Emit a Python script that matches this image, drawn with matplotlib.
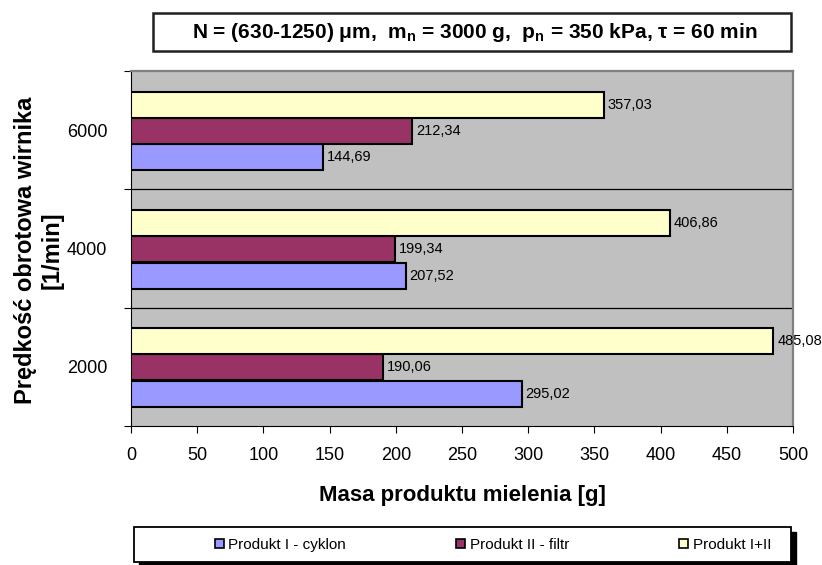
import matplotlib
matplotlib.use("Agg")
import matplotlib.pyplot as plt
from matplotlib.patches import Rectangle, Patch

plt.rcParams['font.family'] = ['Liberation Sans', 'DejaVu Sans']

# dane pomiarowe
predkosci = ['2000', '4000', '6000']
produkt_cyklon = [295.02, 207.52, 144.69]
produkt_filtr = [190.06, 199.34, 212.34]
produkt_suma = [485.08, 406.86, 357.03]
nazwy_serii = ['Produkt I - cyklon', 'Produkt II - filtr', 'Produkt I+II']
kolory = ['#9999FF', '#993366', '#FFFFCC']

W, H = 822, 565
fig = plt.figure(figsize=(W / 100, H / 100), dpi=100)

# obszar wykresu (w pikselach: 131..793 x 71..426)
ax = fig.add_axes([131 / W, 1 - 426 / H, (793 - 131) / W, (426 - 71) / H])
ax.set_facecolor('#C0C0C0')

y = list(range(len(predkosci)))
h = 0.22
serie = [produkt_cyklon, produkt_filtr, produkt_suma]
przesuniecia = [-0.23, -0.005, 0.215]
for vals, kol, dy in zip(serie, kolory, przesuniecia):
    pos = [p + dy for p in y]
    ax.barh(pos, vals, height=h, color=kol, edgecolor='black', linewidth=1.5, zorder=3)
    for p, v in zip(pos, vals):
        ax.text(v + 3, p, f"{v:.2f}".replace('.', ','), va='center', ha='left',
                fontsize=10.5, zorder=4)

ax.set_xlim(0, 500)
ax.set_ylim(-0.5, 2.5)
ax.set_xticks(range(0, 501, 50))
ax.tick_params(axis='x', labelsize=13, length=5, pad=10, direction='out')

# podziałki osi Y na granicach kategorii, opisy w środku
ax.set_yticks([-0.5, 0.5, 1.5, 2.5])
ax.set_yticklabels([])
ax.set_yticks(y, minor=True)
ax.set_yticklabels(predkosci, minor=True)
ax.tick_params(axis='y', which='major', length=5, direction='out')
ax.tick_params(axis='y', which='minor', length=0, labelsize=13, pad=17)

for yy in [0.5, 1.5]:
    ax.axhline(yy, color='black', linewidth=0.9, zorder=2)

ax.spines['left'].set_color('black')
ax.spines['bottom'].set_color('black')
ax.spines['top'].set_color('#808080')
ax.spines['right'].set_color('#808080')
ax.spines['top'].set_linewidth(1.6)
ax.spines['right'].set_linewidth(1.6)

ax.set_xlabel('Masa produktu mielenia [g]', fontsize=16, fontweight='bold', labelpad=15)
fig.text(39 / W, 1 - 250 / H, 'Prędkość obrotowa wirnika\n[1/min]', rotation=90,
         ha='center', va='center', fontsize=17, fontweight='bold', linespacing=1.2)

# ramka z parametrami procesu
fig.patches.append(Rectangle((153 / W, 1 - 51 / H), (791 - 153) / W, 38 / H,
                             transform=fig.transFigure, facecolor='white',
                             edgecolor='#202020', linewidth=1.8, zorder=1))
fig.text(475 / W, 1 - 33 / H,
         'N = (630-1250) μm,  m$_\\mathregular{n}$ = 3000 g,  p$_\\mathregular{n}$ = 350 kPa, τ = 60 min',
         ha='center', va='center', fontsize=15, fontweight='bold', zorder=2)

# legenda z cieniem
fig.patches.append(Rectangle((139 / W, 1 - 567 / H), (791 - 134) / W, 35 / H,
                             transform=fig.transFigure, facecolor='black',
                             edgecolor='black', zorder=1))
fig.patches.append(Rectangle((134 / W, 1 - 562 / H), (791 - 134) / W, 35 / H,
                             transform=fig.transFigure, facecolor='white',
                             edgecolor='black', linewidth=1.3, zorder=1))
uchwyty = [Patch(facecolor=k, edgecolor='black', linewidth=1.2) for k in kolory]
fig.legend(uchwyty, nazwy_serii, ncol=3, loc='center',
           bbox_to_anchor=(493 / W, 1 - 545 / H), frameon=False, fontsize=11,
           handlelength=0.6, handleheight=0.6, handletextpad=0.3, columnspacing=7.2)

fig.savefig('out.png', dpi=100)
